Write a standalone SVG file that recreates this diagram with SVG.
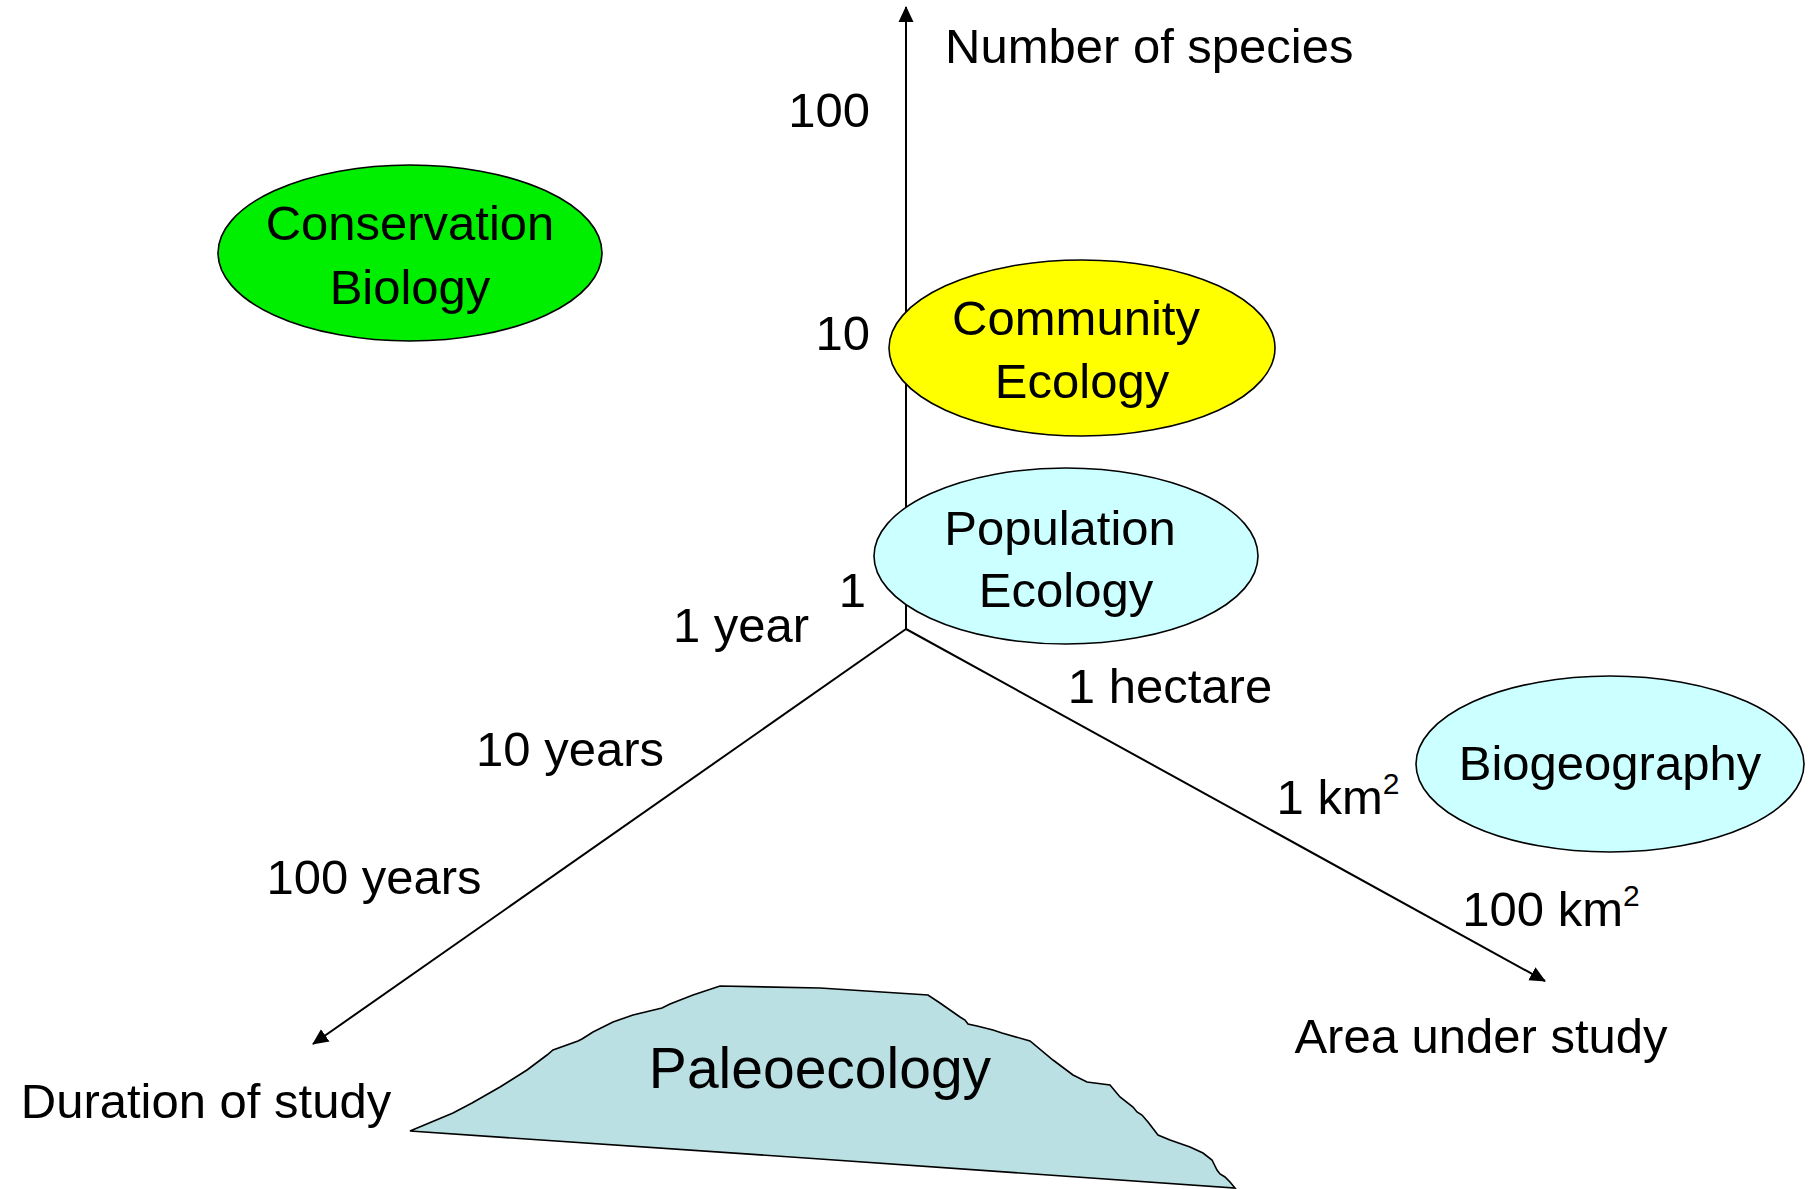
<svg xmlns="http://www.w3.org/2000/svg" width="1815" height="1189" viewBox="0 0 1815 1189">
<style>
  text { font-family: "Liberation Sans", Arial, sans-serif; fill: #000; }
  .lbl { font-size: 49px; }
  .node { font-size: 49px; text-anchor: middle; }
  .oval { stroke: #000; stroke-width: 1.6; }
  .axis { stroke: #000; stroke-width: 2; fill: none; }
</style>
<defs>
  <marker id="arrow" markerUnits="userSpaceOnUse" markerWidth="16" markerHeight="16" viewBox="0 0 16 16" refX="15" refY="8" orient="auto">
    <path d="M0,0.5 L16,8 L0,15.5 Z" fill="#000"/>
  </marker>
</defs>
<rect width="1815" height="1189" fill="#fff"/>

<g id="connectors">
  <line class="axis" x1="906" y1="629" x2="906" y2="7" marker-end="url(#arrow)"/>
  <line class="axis" x1="906" y1="629" x2="313" y2="1044" marker-end="url(#arrow)"/>
  <line class="axis" x1="906" y1="629" x2="1545" y2="981" marker-end="url(#arrow)"/>
</g>

<g id="axis-labels">
  <text class="lbl" x="945" y="63">Number of species</text>
  <text class="lbl" x="870" y="127" text-anchor="end">100</text>
  <text class="lbl" x="870" y="350" text-anchor="end">10</text>
  <text class="lbl" x="866" y="607" text-anchor="end">1</text>
  <text class="lbl" x="741" y="642" text-anchor="middle">1 year</text>
  <text class="lbl" x="570" y="766" text-anchor="middle">10 years</text>
  <text class="lbl" x="374" y="894" text-anchor="middle">100 years</text>
  <text class="lbl" x="206" y="1118" text-anchor="middle">Duration of study</text>
  <text class="lbl" x="1170" y="703" text-anchor="middle">1 hectare</text>
  <text class="lbl" x="1338" y="814" text-anchor="middle">1 km<tspan font-size="30" dy="-20">2</tspan></text>
  <text class="lbl" x="1551" y="926" text-anchor="middle">100 km<tspan font-size="30" dy="-20">2</tspan></text>
  <text class="lbl" x="1481" y="1053" text-anchor="middle">Area under study</text>
</g>

<g id="conservation-biology">
  <ellipse class="oval" cx="410" cy="253" rx="192" ry="88" fill="#00EE00"/>
  <text class="node" x="410" y="240">Conservation</text>
  <text class="node" x="410" y="304">Biology</text>
</g>

<g id="community-ecology">
  <ellipse class="oval" cx="1082" cy="348" rx="193" ry="88" fill="#FFFF00"/>
  <text class="node" x="1076" y="335">Community</text>
  <text class="node" x="1082" y="398">Ecology</text>
</g>

<g id="population-ecology">
  <ellipse class="oval" cx="1066" cy="556" rx="192" ry="88" fill="#CCFFFF"/>
  <text class="node" x="1060" y="545">Population</text>
  <text class="node" x="1066" y="607">Ecology</text>
</g>

<g id="biogeography">
  <ellipse class="oval" cx="1610" cy="764" rx="194" ry="88" fill="#CCFFFF"/>
  <text class="node" x="1610" y="780">Biogeography</text>
</g>

<g id="paleoecology">
  <path class="oval" fill="#BAE0E3" d="M410,1131 L453,1113 L472,1103 L500,1087 L527,1070 L547,1055 L553,1050 L578,1041 L582,1039 L593,1032 L613,1022 L633,1015 L662,1008 L670,1004 L693,995 L720,986 L820,988 L928,995 L940,1003 L960,1017 L965,1020 L968,1024 L977,1026 L993,1030 L1002,1033 L1030,1041 L1053,1060 L1073,1075 L1087,1082 L1110,1085 L1120,1097 L1133,1107 L1137,1112 L1142,1115 L1148,1122 L1158,1135 L1170,1140 L1190,1147 L1203,1153 L1212,1160 L1217,1170 L1220,1174 L1225,1177 L1230,1182 L1235,1188 L820,1159 Z"/>
  <text class="node" x="820" y="1088" font-size="57" style="font-size:57px">Paleoecology</text>
</g>
</svg>
